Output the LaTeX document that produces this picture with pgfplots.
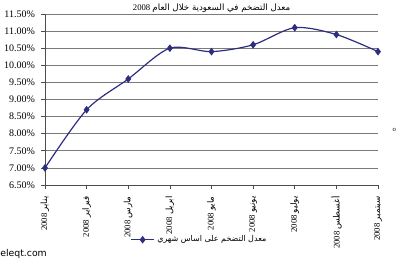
\documentclass[border=0pt]{standalone}
\usepackage{pgfplots}
\pgfplotsset{compat=1.18}
\usepackage{fontspec}
\setmainfont{Liberation Serif}
\newfontfamily\arabicfont[Script=Arabic]{DejaVu Sans}
\setsansfont{DejaVu Sans}
\TeXXeTstate=1
\definecolor{navy}{HTML}{2E2E80}
\definecolor{gridc}{HTML}{7A7A7A}
\newcommand{\ar}[1]{{\arabicfont\beginR #1\endR}}
\begin{document}
\begin{tikzpicture}
\begin{axis}[
  scale only axis,
  width=249.75pt, height=128.25pt,
  xmin=0, xmax=8, ymin=6.5, ymax=11.5,
  axis lines=left,
  axis line style={black!70, -},
  ytick={6.5,7,7.5,8,8.5,9,9.5,10,10.5,11,11.5},
  yticklabels={6.50\%,7.00\%,7.50\%,8.00\%,8.50\%,9.00\%,9.50\%,10.00\%,10.50\%,11.00\%,11.50\%},
  ymajorgrids, major grid style={gridc, line width=0.5pt},
  xtick={0,...,8},
  xticklabels={
    2008 \ar{يناير},
    2008 \ar{فبراير},
    2008 \ar{مارس},
    2008 \ar{ابريل},
    2008 \ar{مايو},
    2008 \ar{يونيو},
    2008 \ar{يوليو},
    2008 \ar{أغسطس},
    2008 \ar{سبتمبر}},
  tick style={black!70, line width=0.5pt},
  major tick length=3pt,
  tick align=outside,
  yticklabel style={font=\fontsize{7.5}{8}\selectfont, xshift=-1pt},
  xticklabel style={font=\fontsize{6.5}{7}\selectfont, rotate=90, anchor=east, yshift=0pt, xshift=-2pt},
  clip=false,
  legend style={at={(0.465,-0.32)}, anchor=center, draw=none, fill=none,
    font=\fontsize{6}{7}\selectfont, legend cell align=left},
  legend image post style={},
]
\addplot[navy, line width=0.9pt, smooth, tension=0.5, mark=diamond*, mark size=2.2pt,
  mark options={fill=navy, solid}] coordinates {
  (0,7.0) (1,8.7) (2,9.6) (3,10.5) (4,10.4) (5,10.6) (6,11.1) (7,10.9) (8,10.4)};
\addlegendentry{\ar{معدل التضخم على اساس شهري}}
\coordinate (O) at (rel axis cs:0,0);
\coordinate (T) at (rel axis cs:0.5,1);
\end{axis}
\node[font=\fontsize{6.5}{7}\selectfont, anchor=base] at ([xshift=0.1pt,yshift=2.3pt]T) {2008 \ar{معدل التضخم في السعودية خلال العام}};
\node[font=\sffamily\fontsize{7}{8}\selectfont, anchor=south west, inner sep=0pt] at ([xshift=-33.75pt,yshift=-55.5pt]O) {eleqt.com};
\node[font=\fontsize{5}{5}\selectfont, inner sep=0pt] at ([xshift=262pt,yshift=41pt]O) {o};
\pgfresetboundingbox
\useasboundingbox ([xshift=-33.75pt,yshift=-57pt]O) rectangle ++(300pt,195.75pt);
\end{tikzpicture}
\end{document}
